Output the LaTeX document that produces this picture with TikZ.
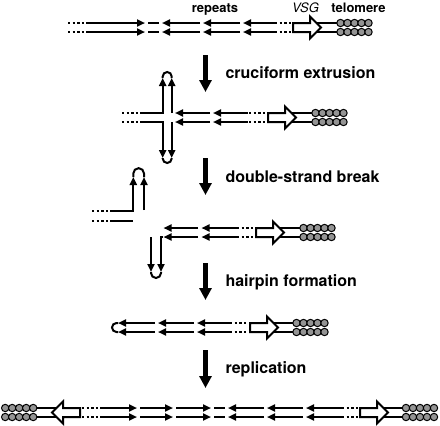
\documentclass[tikz,border=0pt]{standalone}
\usepackage{fontspec}
\setmainfont{TeX Gyre Heros}
\usetikzlibrary{arrows.meta}

\tikzset{
	strand/.style={line width=2pt},
	rep/.style={strand,-{Triangle[length=8pt,width=7pt]}},
	dots/.style={strand,dash pattern=on 2.4pt off 2.2pt},
	gene/.style={strand,fill=white,line join=miter},
	bead/.style={line width=1pt,fill=black!42},
	steparrow/.style={line width=4.5pt,-{Triangle[length=12pt,width=12pt]}},
	lbl/.style={font=\bfseries\fontsize{16}{18}\selectfont,anchor=base west},
	tag/.style={font=\bfseries\fontsize{13}{15}\selectfont,anchor=base}
}

% VSG block arrow, left end at #1, upper strand at #2
\newcommand{\generight}[2]{\draw[gene] (#1,#2) -- (#1+17,#2) -- (#1+17,#2-6.5) -- (#1+28,#2+4.5) -- (#1+17,#2+15.5) -- (#1+17,#2+9) -- (#1,#2+9) -- cycle;}
\newcommand{\geneleft}[2]{\draw[gene] (#1,#2) -- (#1-17,#2) -- (#1-17,#2-6.5) -- (#1-28,#2+4.5) -- (#1-17,#2+15.5) -- (#1-17,#2+9) -- (#1,#2+9) -- cycle;}
% telomere beads, first centre at #1
\newcommand{\telo}[2]{\foreach \k in {0,...,4} {
		\draw[bead] (#1+7*\k,#2) circle[radius=3.7pt];
		\draw[bead] (#1+7*\k,#2+9) circle[radius=3.7pt];}}

\begin{document}
\begin{tikzpicture}[x=1pt,y=-1pt]
	\useasboundingbox (0,0) rectangle (440,426);

	% intact locus
	\node[tag] (rep) at (215,12.5) {repeats};
	\node[tag,font=\itshape\fontsize{13}{15}\selectfont] (vsg) at (305.5,12.5) {VSG};
	\node[tag] (tel) at (358.5,12.5) {telomere};
	\foreach \y in {23,32} {
		\draw[dots] (68,\y) -- (88,\y);
		\draw[rep] (88,\y) -- (145,\y);
		\draw[strand] (148,\y) -- (159,\y);
		\draw[rep] (200,\y) -- (162,\y);
		\draw[rep] (240,\y) -- (203,\y);
		\draw[rep] (275,\y) -- (243,\y);
		\draw[dots] (275,\y) -- (292,\y);
		\draw[strand] (300,\y) -- (338,\y);
	}
	\generight{293}{23}
	\telo{340.5}{23}

	\coordinate (s1a) at (205.5,55);
	\coordinate (s1b) at (205.5,92);
	\draw[steparrow] (s1a) -- (s1b);
	\node[lbl] (cru) at (222,78) {cruciform extrusion};

	% cruciform
	\draw[dots] (122,113) -- (142,113);
	\draw[dots] (122,122) -- (142,122);
	\draw[rep] (142,113) -- (162.7,113) -- (162.7,78);
	\draw[rep] (171.7,113) -- (171.7,78);
	\draw[strand] (162.7,78) -- (162.7,76.5) arc[start angle=180,end angle=0,radius=4.5pt] -- (171.7,78);
	\draw[rep] (142,122) -- (162.7,122) -- (162.7,158);
	\draw[rep] (171.7,122) -- (171.7,158);
	\draw[strand] (162.7,158) -- (162.7,158.5) arc[start angle=180,end angle=360,radius=4.5pt] -- (171.7,158);
	\foreach \y in {113,122} {
		\draw[rep] (210,\y) -- (175,\y);
		\draw[rep] (248,\y) -- (213,\y);
		\draw[dots] (249,\y) -- (266,\y);
		\draw[strand] (275,\y) -- (313,\y);
	}
	\generight{268}{113}
	\telo{315.5}{113}

	\coordinate (s2a) at (205.5,158);
	\coordinate (s2b) at (205.5,195);
	\draw[steparrow] (s2a) -- (s2b);
	\node[lbl] (dsb) at (222,182) {double-strand break};

	% broken ends
	\draw[dots] (92,211) -- (113,211);
	\draw[dots] (92,220.5) -- (113,220.5);
	\draw[rep] (113,211) -- (133.3,211) -- (133.3,177);
	\draw[strand] (113,220.5) -- (133.3,220.5);
	\draw[rep] (144,210) -- (144,177);
	\draw[strand] (133.3,177) -- (133.3,173.5) arc[start angle=180,end angle=0,radius=5.35pt] -- (144,177);

	\foreach \y in {228,237} {
		\draw[rep] (198,\y) -- (163.5,\y);
		\draw[rep] (237,\y) -- (201.5,\y);
		\draw[dots] (237,\y) -- (254,\y);
		\draw[strand] (265,\y) -- (301,\y);
	}
	\draw[rep] (163,237) -- (161,237) -- (161,272);
	\draw[rep] (151,237) -- (151,272);
	\draw[strand] (151,272) -- (151,273) arc[start angle=180,end angle=360,radius=5pt] -- (161,272);
	\generight{256}{228}
	\telo{303.5}{228}

	\coordinate (s3a) at (205.5,263);
	\coordinate (s3b) at (205.5,300);
	\draw[steparrow] (s3a) -- (s3b);
	\node[lbl] (hair) at (222,286) {hairpin formation};

	% hairpin
	\foreach \y in {323,332} {
		\draw[rep] (155,\y) -- (118,\y);
		\draw[rep] (194,\y) -- (158,\y);
		\draw[rep] (230,\y) -- (197,\y);
		\draw[dots] (230,\y) -- (248,\y);
		\draw[strand] (258,\y) -- (294,\y);
	}
	\draw[strand] (118,323) -- (116.5,323) arc[start angle=90,end angle=270,radius=4.5pt] -- (118,332);
	\generight{250}{323}
	\telo{296.5}{323}

	\coordinate (s4a) at (205.5,350);
	\coordinate (s4b) at (205.5,388);
	\draw[steparrow] (s4a) -- (s4b);
	\node[lbl] (repl) at (222,373.5) {replication};

	% dicentric product
	\foreach \y in {408,417} {
		\draw[strand] (36,\y) -- (70,\y);
		\draw[dots] (82,\y) -- (100,\y);
		\draw[rep] (100,\y) -- (137,\y);
		\draw[rep] (140,\y) -- (173,\y);
		\draw[rep] (176,\y) -- (211,\y);
		\draw[strand] (214,\y) -- (225,\y);
		\draw[rep] (264,\y) -- (228,\y);
		\draw[rep] (303,\y) -- (267,\y);
		\draw[rep] (342,\y) -- (306,\y);
		\draw[dots] (342,\y) -- (358,\y);
		\draw[strand] (368,\y) -- (404,\y);
	}
	\geneleft{80}{408}
	\generight{360}{408}
	\telo{5.2}{408}
	\telo{406}{408}
\end{tikzpicture}
\end{document}
